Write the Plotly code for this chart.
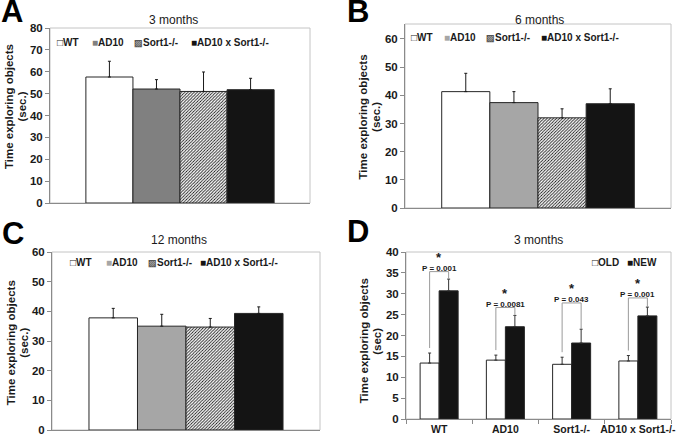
import plotly.graph_objects as go

W, H = 677, 440

# ---------------- data ----------------
GROUPS = ["WT", "AD10", "Sort1-/-", "AD10 x Sort1-/-"]
PANEL_TITLES = ["3 months", "6 months", "12 months", "3 months"]
PANEL_LETTERS = ["A", "B", "C", "D"]
YTITLE_LINES = [["Time exploring objects", "(sec.)"]] * 3 + [["Time exploring objects", "(sec)"]]

MEAN_3M = [57.6, 52.1, 51.0, 51.8]
ERR_3M = [7.2, 4.3, 8.9, 5.2]
MEAN_6M = [41.3, 37.4, 32.0, 37.0]
ERR_6M = [6.5, 3.9, 3.2, 5.3]
MEAN_12M = [37.8, 35.0, 34.7, 39.3]
ERR_12M = [3.2, 4.0, 2.9, 2.2]

D_SERIES = ["OLD", "NEW"]
OLD_MEAN = [13.4, 14.1, 13.1, 13.9]
OLD_ERR = [2.4, 1.2, 1.7, 1.3]
NEW_MEAN = [30.7, 22.1, 18.2, 24.7]
NEW_ERR = [2.8, 2.7, 3.3, 2.1]
P_VALUES = ["P = 0.001", "P = 0.0081", "P = 0.043", "P = 0.001"]
BRACKET_Y = [35.3, 26.7, 27.8, 29.0]

# ---------------- style ----------------
FONT = "Arial, Liberation Sans, Helvetica, sans-serif"
DARK = "#141414"
TXT = "#1a1a1a"
AXIS = "#8a8a8a"
FRAME = "#c4c4c4"
OUTLINE = "#262626"
BARGAP = 0.426
AD10_COLORS = ["#808080", "#a6a6a6", "#a6a6a6"]


def px_x(p):
    return p / W


def px_y(p):
    return 1 - p / H


# plot areas in pixels (left, right, top, bottom)
BOXES = [(50, 310, 28, 203), (405, 671, 24, 208), (52, 320, 252, 430), (406, 671, 252, 419)]
YRANGES = [[0, 80], [0, 65.3], [0, 60], [0, 40]]
YTITLE_POS = [(15.3, 107), (369.7, 117), (17.5, 343), (370.5, 341)]

fig = go.Figure()

panels = [(MEAN_3M, ERR_3M), (MEAN_6M, ERR_6M), (MEAN_12M, ERR_12M)]
for k, (means, errs) in enumerate(panels):
    xa = "x" if k == 0 else f"x{k+1}"
    ya = "y" if k == 0 else f"y{k+1}"
    for g, name in enumerate(GROUPS):
        marker = dict(line=dict(color=OUTLINE, width=1))
        if g == 0:
            marker["color"] = "white"
        elif g == 1:
            marker["color"] = AD10_COLORS[k]
        elif g == 2:
            marker["color"] = "white"
            marker["pattern"] = dict(shape="/", fgcolor="#1a1a1a", bgcolor="white", size=2.2, solidity=0.4)
        else:
            marker["color"] = DARK
        fig.add_trace(go.Bar(
            x=[0], y=[means[g]], name=name, xaxis=xa, yaxis=ya, marker=marker,
            error_y=dict(type="data", array=[errs[g]], arrayminus=[0], symmetric=False,
                         color="#1a1a1a", thickness=1, width=1.5),
            showlegend=False,
        ))

# panel D
xcat = list(range(len(GROUPS)))
fig.add_trace(go.Bar(
    x=xcat, y=OLD_MEAN, name="OLD", xaxis="x4", yaxis="y4",
    marker=dict(color="white", line=dict(color=OUTLINE, width=1)),
    error_y=dict(type="data", array=OLD_ERR, arrayminus=[0] * 4, symmetric=False,
                 color="#333333", thickness=1, width=1.5),
    showlegend=False,
))
fig.add_trace(go.Bar(
    x=xcat, y=NEW_MEAN, name="NEW", xaxis="x4", yaxis="y4",
    marker=dict(color=DARK, line=dict(color=OUTLINE, width=1)),
    error_y=dict(type="data", array=NEW_ERR, arrayminus=[0] * 4, symmetric=False,
                 color="#333333", thickness=1, width=1.5),
    showlegend=False,
))

# significance brackets
off = (1 - BARGAP) / 4
for i in range(len(GROUPS)):
    xl, xr = i - off, i + off
    fig.add_trace(go.Scatter(
        x=[xl, xl, xr, xr],
        y=[OLD_MEAN[i] + OLD_ERR[i] + 1.2, BRACKET_Y[i], BRACKET_Y[i], NEW_MEAN[i] + NEW_ERR[i]],
        mode="lines", line=dict(color="#9a9a9a", width=1),
        xaxis="x4", yaxis="y4", showlegend=False, hoverinfo="skip",
    ))

annotations = []
for i in range(len(GROUPS)):
    annotations.append(dict(
        x=i, y=BRACKET_Y[i], xref="x4", yref="y4", text=P_VALUES[i], showarrow=False,
        yanchor="bottom", yshift=-3, font=dict(family=FONT, size=8, color=TXT, weight="bold"),
    ))
    annotations.append(dict(
        x=i, y=BRACKET_Y[i], xref="x4", yref="y4", text="*", showarrow=False,
        yanchor="bottom", yshift=5, font=dict(family=FONT, size=13, color=TXT, weight="bold"),
    ))

layout = dict(
    template="none",
    width=W, height=H, margin=dict(l=0, r=0, t=0, b=0, autoexpand=False),
    paper_bgcolor="white", plot_bgcolor="white",
    barmode="group", bargap=BARGAP, bargroupgap=0,
    showlegend=False, font=dict(family=FONT, color=TXT),
)

shapes = []
for k, (l, r, t, b) in enumerate(BOXES):
    xs = "" if k == 0 else str(k + 1)
    half = (1 - BARGAP) / 0.724 / 2
    xaxis = dict(
        domain=[px_x(l), px_x(r)], anchor="y" + xs, showgrid=False, zeroline=False, automargin=False,
        showline=True, linecolor=AXIS, linewidth=1, fixedrange=True,
    )
    if k < 3:
        xaxis.update(range=[-half, half], showticklabels=False, ticks="")
    else:
        xaxis.update(range=[-0.5, 3.5], tickmode="array", tickvals=xcat, ticktext=GROUPS,
                     ticks="", ticklabeloverflow="allow",
                     tickfont=dict(family=FONT, size=10.5, weight="bold", color=TXT),
                     minor=dict(tickmode="array", tickvals=[-0.5, 0.5, 1.5, 2.5, 3.5], ticks="outside",
                                ticklen=4, tickcolor=AXIS, showgrid=False))
    yaxis = dict(
        domain=[px_y(b), px_y(t)], anchor="x" + xs, range=YRANGES[k], dtick=5 if k == 3 else 10,
        tick0=0, showgrid=False, zeroline=False, showline=True, linecolor=AXIS, linewidth=1,
        ticks="outside", ticklen=4, tickcolor=AXIS, automargin=False, fixedrange=True,
        tickfont=dict(family=FONT, size=11.5, weight="bold", color=TXT),
    )
    layout["xaxis" + xs] = xaxis
    layout["yaxis" + xs] = yaxis
    shapes.append(dict(type="rect", xref=f"x{xs} domain", yref=f"y{xs} domain", x0=0, x1=1, y0=0, y1=1,
                       line=dict(color=FRAME, width=1), layer="below"))

    # y-axis title, two rotated lines
    cx, cy = YTITLE_POS[k]
    for j, line in enumerate(YTITLE_LINES[k]):
        annotations.append(dict(
            x=px_x(cx + (j - 0.5) * 12.5), y=px_y(cy), xref="paper", yref="paper", text=line,
            textangle=-90, showarrow=False, xanchor="center", yanchor="middle",
            font=dict(family=FONT, size=11.5, weight="bold", color=TXT),
        ))

# panel titles and letters
TITLE_POS = [(173, 20), (539, 20), (179, 240), (538, 240)]
LETTER_POS = [(11.5, 12), (358, 12), (12.5, 233), (358, 232)]
for k in range(4):
    tx, ty = TITLE_POS[k]
    annotations.append(dict(x=px_x(tx), y=px_y(ty), xref="paper", yref="paper", text=PANEL_TITLES[k],
                            showarrow=False, xanchor="center", yanchor="middle",
                            font=dict(family=FONT, size=12, color=TXT)))
    lx, ly = LETTER_POS[k]
    annotations.append(dict(x=px_x(lx), y=px_y(ly), xref="paper", yref="paper", text=PANEL_LETTERS[k],
                            showarrow=False, xanchor="center", yanchor="middle",
                            font=dict(family=FONT, size=31, color="black", weight="bold")))


# legends (drawn as text entries)
def swatch(kind, color):
    if kind == "open":
        return '<span style="color:#1a1a1a">□</span>'
    if kind == "hatch":
        return '<span style="color:#555555;font-size:9px">▨</span>'
    return f'<span style="color:{color}">■</span>'


LEG_X = [[55, 90, 132, 189], [409, 442, 484, 539], [68, 104, 146, 198]]
LEG_Y = [42, 37, 262]
for k in range(3):
    kinds = [("open", None), ("fill", AD10_COLORS[k]), ("hatch", None), ("fill", DARK)]
    for g, name in enumerate(GROUPS):
        annotations.append(dict(
            x=px_x(LEG_X[k][g]), y=px_y(LEG_Y[k]), xref="paper", yref="paper",
            text=swatch(*kinds[g]) + name, showarrow=False, xanchor="left", yanchor="middle",
            font=dict(family=FONT, size=10, weight="bold", color=TXT),
        ))
D_LEG_X = [590, 625]
for j, name in enumerate(D_SERIES):
    annotations.append(dict(
        x=px_x(D_LEG_X[j]), y=px_y(262), xref="paper", yref="paper",
        text=(swatch("open", None) if j == 0 else swatch("fill", DARK)) + name,
        showarrow=False, xanchor="left", yanchor="middle",
        font=dict(family=FONT, size=10, weight="bold", color=TXT),
    ))

layout["annotations"] = annotations
layout["shapes"] = shapes
fig.update_layout(**layout)

fig.write_html(
    "out.html",
    config={"displayModeBar": False, "staticPlot": True},
    post_script="document.body.style.margin='0';document.body.style.padding='0';document.body.style.overflow='hidden';",
)
